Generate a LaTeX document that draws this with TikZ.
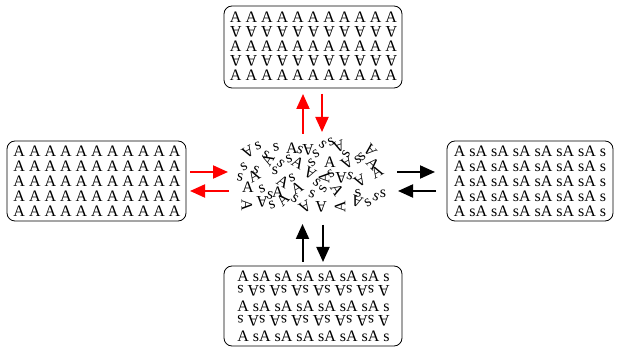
\documentclass[tikz,border=0pt]{standalone}
\usepackage{fontspec}
\setmainfont{Liberation Serif}
\usetikzlibrary{arrows.meta}
\begin{document}
\begin{tikzpicture}[x=1pt,y=1pt,
  box/.style={draw, rounded corners=8pt, line width=0.8pt, inner sep=0pt},
  row/.style={inner sep=0pt, font=\fontsize{16}{16}\selectfont},
  glyph/.style={inner sep=0pt, font=\fontsize{16}{16}\selectfont},
  redarr/.style={draw=red, line width=2pt, -{Triangle[length=15pt,width=13pt]}, fill=red},
  blkarr/.style={draw=black, line width=2pt, -{Triangle[length=15pt,width=13pt]}, fill=black}]
\useasboundingbox (0,0) rectangle (619,-347);
% boxes
\node[box, minimum width=178pt, minimum height=82pt] (topbox) at (313,-47) {};
\node[box, minimum width=179pt, minimum height=80pt] (leftbox) at (96.5,-181) {};
\node[box, minimum width=166pt, minimum height=80pt] (rightbox) at (530,-181) {};
\node[box, minimum width=178pt, minimum height=80pt] (botbox) at (313,-306) {};
% top rows
\node[row] (t1) at (313.5,-17.5) {A A A A A A A A A A A};
\node[row, rotate=180] (t2) at (313.5,-32) {A A A A A A A A A A A};
\node[row] (t3) at (313.5,-46.5) {A A A A A A A A A A A};
\node[row, rotate=180] (t4) at (313.5,-61) {A A A A A A A A A A A};
\node[row] (t5) at (313.5,-75.5) {A A A A A A A A A A A};
% left rows
\foreach \yy [count=\i] in {151,166,181,196,211}
  \node[row] (l\i) at (97,-\yy) {A A A A A A A A A A A};
% right rows
\foreach \yy [count=\i] in {151,166,181,196,211}
  \node[row] (r\i) at (530,-\yy) {A sA sA sA sA sA sA s};
% bottom rows
\node[row] (b1) at (313.5,-276) {A sA sA sA sA sA sA s};
\node[row, rotate=180] (b2) at (313.5,-291) {A sA sA sA sA sA sA s};
\node[row] (b3) at (313.5,-306) {A sA sA sA sA sA sA s};
\node[row, rotate=180] (b4) at (313.5,-321) {A sA sA sA sA sA sA s};
\node[row] (b5) at (313.5,-336) {A sA sA sA sA sA sA s};
% disordered centre
\foreach \gx/\gy/\ga/\gc [count=\i] in {
  248/152/-150/A, 258/146/20/s, 266/155/-30/s, 276/147/10/s, 292/148/0/A,
  300/150/-20/s, 308/150/180/A, 316/154/30/s, 323/145/-40/s, 331/142/20/s,
  339/146/200/A, 346/154/60/s, 362/157/40/s, 370/150/130/A,
  244/167/30/s, 256/170/-20/s, 268/160/60/A, 281/164/-40/s, 289/159/20/s,
  298/163/-30/A, 312/163/40/s, 330/162/0/A, 347/163/-150/A, 358/160/30/s,
  373/164/-45/A,
  240/177/-10/s, 254/176/30/A, 275/171/0/s, 283/182/-30/A, 292/178/20/s,
  310/173/150/A, 317/183/-40/s, 324/178/90/A, 331/174/30/s, 341/178/180/A,
  350/176/-20/s, 360/181/-150/A, 377/172/30/A,
  248/187/0/A, 262/189/20/s, 270/195/-10/s, 278/192/0/A, 297/188/30/A,
  312/194/-20/s, 323/189/60/s, 337/190/-60/A, 358/193/10/s, 383/194/0/s,
  247/205/-90/A, 262/202/180/A, 272/205/20/s, 283/200/45/A, 295/199/-30/s,
  305/207/-150/A, 321/207/180/A, 340/207/90/A, 357/201/160/A, 368/203/30/s,
  376/197/-20/s}
  \node[glyph, rotate=\ga] (g\i) at (\gx,-\gy) {\gc};
% arrow end points
\coordinate (lA1) at (190,-172); \coordinate (lB1) at (228,-172);
\coordinate (lA2) at (229,-191); \coordinate (lB2) at (190,-191);
\coordinate (rA1) at (397,-172); \coordinate (rB1) at (435,-172);
\coordinate (rA2) at (436,-191); \coordinate (rB2) at (398,-191);
\coordinate (tA1) at (303,-134); \coordinate (tB1) at (303,-94);
\coordinate (tA2) at (322,-94);  \coordinate (tB2) at (322,-132);
\coordinate (bA1) at (302.5,-262); \coordinate (bB1) at (302.5,-224);
\coordinate (bA2) at (323,-225); \coordinate (bB2) at (323,-262);
% arrows
\draw[redarr] (lA1) -- (lB1);
\draw[redarr] (lA2) -- (lB2);
\draw[redarr] (tA1) -- (tB1);
\draw[redarr] (tA2) -- (tB2);
\draw[blkarr] (rA1) -- (rB1);
\draw[blkarr] (rA2) -- (rB2);
\draw[blkarr] (bA1) -- (bB1);
\draw[blkarr] (bA2) -- (bB2);
\end{tikzpicture}
\end{document}
